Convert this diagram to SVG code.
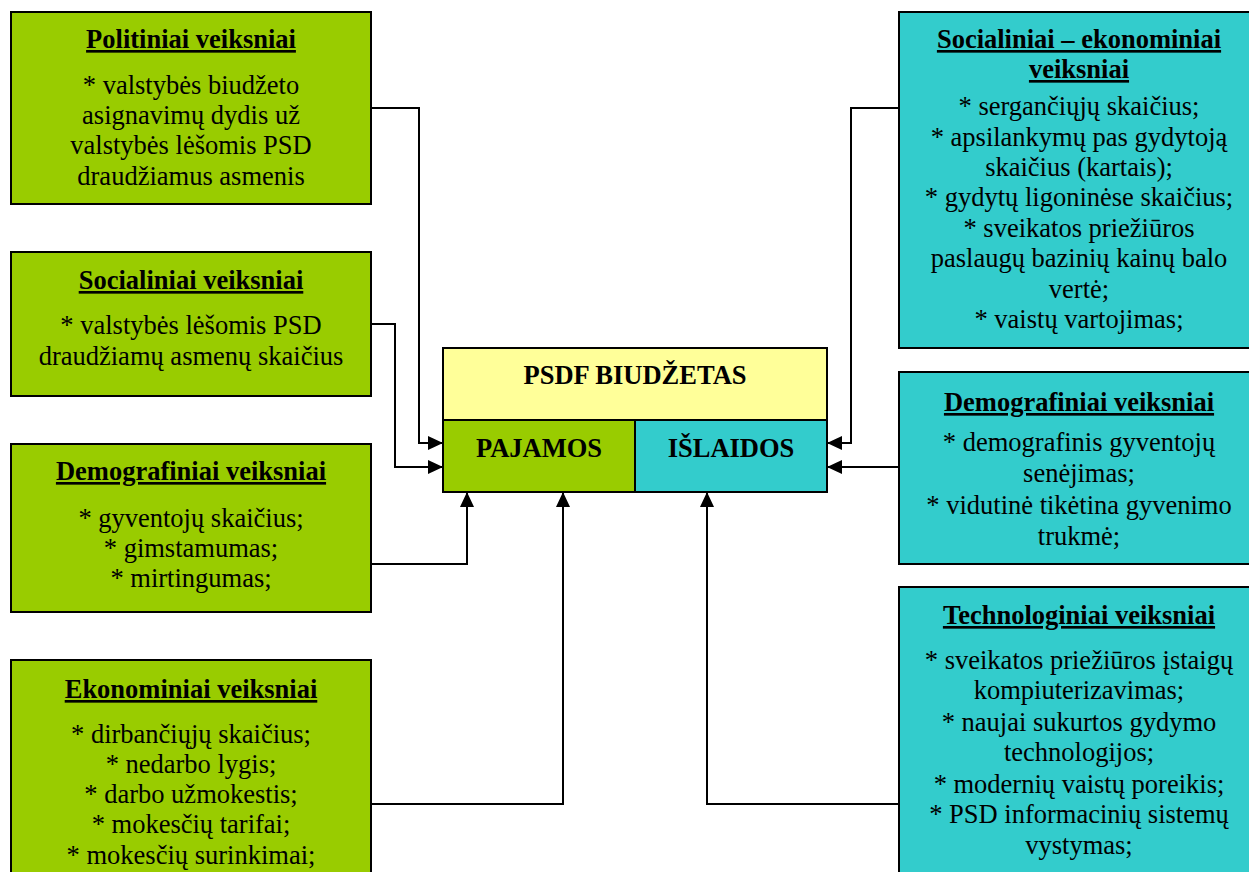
<svg xmlns="http://www.w3.org/2000/svg" width="1249" height="872" viewBox="0 0 1249 872">
<defs>
<style>
.g{fill:#99CC00;stroke:#000;stroke-width:2}
.c{fill:#33CCCC;stroke:#000;stroke-width:2}
.y{fill:#FFFF99;stroke:#000;stroke-width:2}
text{font-family:"Liberation Serif","Times New Roman",serif;font-size:26.5px;fill:#000;text-anchor:middle}
.t{font-weight:bold;text-decoration:underline}
.b{font-weight:bold}
.ln{fill:none;stroke:#000;stroke-width:2}
</style>
<marker id="ah" viewBox="0 0 15 14" refX="15" refY="7" markerWidth="15" markerHeight="14" orient="auto" markerUnits="userSpaceOnUse">
<path d="M0,0 L15,7 L0,14 Z" fill="#000"/>
</marker>
</defs>
<rect width="1249" height="872" fill="#fff"/>
<g id="politiniai">
<rect class="g" x="11" y="12" width="360" height="192"/>
<text class="t" x="191" y="48">Politiniai veiksniai</text>
<text x="191" y="94">* valstybės biudžeto</text>
<text x="191" y="124">asignavimų dydis už</text>
<text x="191" y="154">valstybės lėšomis PSD</text>
<text x="191" y="185">draudžiamus asmenis</text>
</g>
<g id="socialiniai">
<rect class="g" x="11" y="252" width="360" height="144"/>
<text class="t" x="191" y="289">Socialiniai veiksniai</text>
<text x="191" y="334">* valstybės lėšomis PSD</text>
<text x="191" y="365">draudžiamų asmenų skaičius</text>
</g>
<g id="demografiniai-l">
<rect class="g" x="11" y="444" width="360" height="168"/>
<text class="t" x="191" y="480">Demografiniai veiksniai</text>
<text x="191" y="527">* gyventojų skaičius;</text>
<text x="191" y="557">* gimstamumas;</text>
<text x="191" y="587">* mirtingumas;</text>
</g>
<g id="ekonominiai">
<rect class="g" x="11" y="660" width="360" height="230"/>
<text class="t" x="191" y="698">Ekonominiai veiksniai</text>
<text x="191" y="743">* dirbančiųjų skaičius;</text>
<text x="191" y="773">* nedarbo lygis;</text>
<text x="191" y="803">* darbo užmokestis;</text>
<text x="191" y="833">* mokesčių tarifai;</text>
<text x="191" y="864">* mokesčių surinkimai;</text>
</g>
<g id="psdf">
<rect class="y" x="443" y="348" width="384" height="72"/>
<rect class="g" x="443" y="420" width="192" height="72"/>
<rect class="c" x="635" y="420" width="192" height="72"/>
<text class="b" x="635" y="384">PSDF BIUDŽETAS</text>
<text class="b" x="539" y="457">PAJAMOS</text>
<text class="b" x="731" y="457">IŠLAIDOS</text>
</g>
<g id="soc-ekon">
<rect class="c" x="899" y="12" width="362" height="336"/>
<text class="t" x="1079" y="48">Socialiniai – ekonominiai</text>
<text class="t" x="1079" y="78">veiksniai</text>
<text x="1079" y="115">* sergančiųjų skaičius;</text>
<text x="1079" y="146">* apsilankymų pas gydytoją</text>
<text x="1079" y="176">skaičius (kartais);</text>
<text x="1079" y="206">* gydytų ligoninėse skaičius;</text>
<text x="1079" y="237">* sveikatos priežiūros</text>
<text x="1079" y="267">paslaugų bazinių kainų balo</text>
<text x="1079" y="298">vertė;</text>
<text x="1079" y="328">* vaistų vartojimas;</text>
</g>
<g id="demografiniai-r">
<rect class="c" x="899" y="372" width="362" height="192"/>
<text class="t" x="1079" y="411">Demografiniai veiksniai</text>
<text x="1079" y="451">* demografinis gyventojų</text>
<text x="1079" y="482">senėjimas;</text>
<text x="1079" y="514">* vidutinė tikėtina gyvenimo</text>
<text x="1079" y="545">trukmė;</text>
</g>
<g id="technologiniai">
<rect class="c" x="899" y="587" width="362" height="300"/>
<text class="t" x="1079" y="624">Technologiniai veiksniai</text>
<text x="1079" y="669">* sveikatos priežiūros įstaigų</text>
<text x="1079" y="699">kompiuterizavimas;</text>
<text x="1079" y="731">* naujai sukurtos gydymo</text>
<text x="1079" y="761">technologijos;</text>
<text x="1079" y="793">* modernių vaistų poreikis;</text>
<text x="1079" y="823">* PSD informacinių sistemų</text>
<text x="1079" y="854">vystymas;</text>
</g>
<g id="connectors">
<path class="ln" marker-end="url(#ah)" d="M371,108 H419 V443 H443"/>
<path class="ln" marker-end="url(#ah)" d="M371,324 H395 V467 H443"/>
<path class="ln" marker-end="url(#ah)" d="M371,564 H467 V492"/>
<path class="ln" marker-end="url(#ah)" d="M371,804 H563 V492"/>
<path class="ln" marker-end="url(#ah)" d="M899,108 H851 V443 H827"/>
<path class="ln" marker-end="url(#ah)" d="M899,467 H827"/>
<path class="ln" marker-end="url(#ah)" d="M899,804 H707 V492"/>
</g>
</svg>
